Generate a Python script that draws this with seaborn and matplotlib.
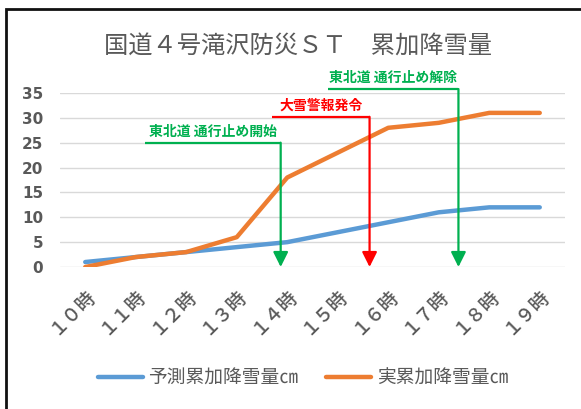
import numpy as np
import pandas as pd
import matplotlib
matplotlib.use("Agg")
import matplotlib.pyplot as plt
from matplotlib.patches import Rectangle
import seaborn as sns

# ---- data -------------------------------------------------------------
hours = ["１０時", "１１時", "１２時", "１３時", "１４時",
         "１５時", "１６時", "１７時", "１８時", "１９時"]
forecast_cm = [1, 2, 3, 4, 5, 7, 9, 11, 12, 12]
actual_cm = [0, 2, 3, 6, 18, 23, 28, 29, 31, 31]
series_names = ["予測累加降雪量㎝", "実累加降雪量㎝"]
y_ticks = [0, 5, 10, 15, 20, 25, 30, 35]
title_text = "国道４号滝沢防災ＳＴ　累加降雪量"

# event notes: text, colour, hour position of the arrow, level of the bar,
# start of the bar (hour position)
event_texts = ["東北道 通行止め開始", "大雪警報発令", "東北道 通行止め解除"]
event_arrow_x = [3.87, 5.63, 7.39]
event_bar_y = [25, 30.2, 35.8]
event_bar_start = [1.19, 3.70, 4.80]
event_colors = ["#00B050", "#FF0000", "#00B050"]

# ---- styling ------------------------------------------------------------
sns.set_style("white")
plt.rcParams["font.family"] = ["Noto Sans CJK JP", "DejaVu Sans"]

W, H = 581, 409
fig = plt.figure(figsize=(W / 100, H / 100), dpi=100)
ax = fig.add_axes([60 / W, 1 - 267 / H, (565 - 60) / W, (267 - 93) / H])

pos = np.arange(len(hours))
df = pd.DataFrame({
    "pos": np.concatenate([pos, pos]),
    "cm": forecast_cm + actual_cm,
    "series": [series_names[0]] * len(hours) + [series_names[1]] * len(hours),
})
palette = {series_names[0]: "#5B9BD5", series_names[1]: "#ED7D31"}
sns.lineplot(data=df, x="pos", y="cm", hue="series", palette=palette,
             linewidth=3.2, ax=ax, legend=False, sort=False,
             solid_capstyle="round", solid_joinstyle="round")

ax.set_xlim(-0.5, len(hours) - 0.5)
ax.set_ylim(0, 35)
ax.set_yticks(y_ticks)
ax.set_yticklabels([str(v) for v in y_ticks], fontfamily="DejaVu Sans",
                   fontweight="bold", fontsize=11, color="#595959")
ax.set_xticks(pos)
ax.set_xticklabels(hours, rotation=45, ha="right", va="top",
                   rotation_mode="anchor", fontsize=13.5, color="#595959",
                   fontweight="medium")
ax.tick_params(axis="y", length=0, pad=12)
ax.tick_params(axis="x", length=0, pad=13)
ax.grid(axis="y", color="#D9D9D9", linewidth=1.0)
ax.set_axisbelow(True)
for s in ax.spines.values():
    s.set_visible(False)
ax.set_xlabel("")
ax.set_ylabel("")

# event arrows
for txt, ax_x, by, bx0, col in zip(event_texts, event_arrow_x, event_bar_y,
                                   event_bar_start, event_colors):
    ax.plot([bx0, ax_x], [by, by], color=col, linewidth=1.6, clip_on=False,
            solid_capstyle="butt")
    ax.annotate("", xy=(ax_x, 0), xytext=(ax_x, by),
                arrowprops=dict(arrowstyle="-|>,head_length=0.9,head_width=0.45",
                                color=col, lw=1.6, shrinkA=0, shrinkB=0),
                annotation_clip=False)
    ax.annotate(txt, xy=((bx0 + ax_x) / 2, by), xytext=(0, 3),
                textcoords="offset points", ha="center", va="bottom",
                fontsize=10, fontweight="bold", color=col,
                annotation_clip=False)

# title
fig.text(298 / W, 1 - 47 / H, title_text, ha="center", va="center",
         fontsize=17.5, color="#595959")

# legend
handles = [plt.Line2D([], [], color=palette[n], linewidth=3.2,
                      solid_capstyle="round") for n in series_names]
fig.legend(handles, series_names, loc="center", ncol=2, frameon=False,
           bbox_to_anchor=(303 / W, 1 - 378 / H), fontsize=13.5,
           labelcolor="#595959", handlelength=2.4, handletextpad=0.3,
           columnspacing=1.5)

# chart frame
fig.add_artist(Rectangle((5.5 / W, -0.1), 1.2, 1 - 9 / H + 0.1,
                         transform=fig.transFigure, fill=False,
                         edgecolor="#111111", linewidth=2.0))

fig.savefig("out.png", dpi=100)
